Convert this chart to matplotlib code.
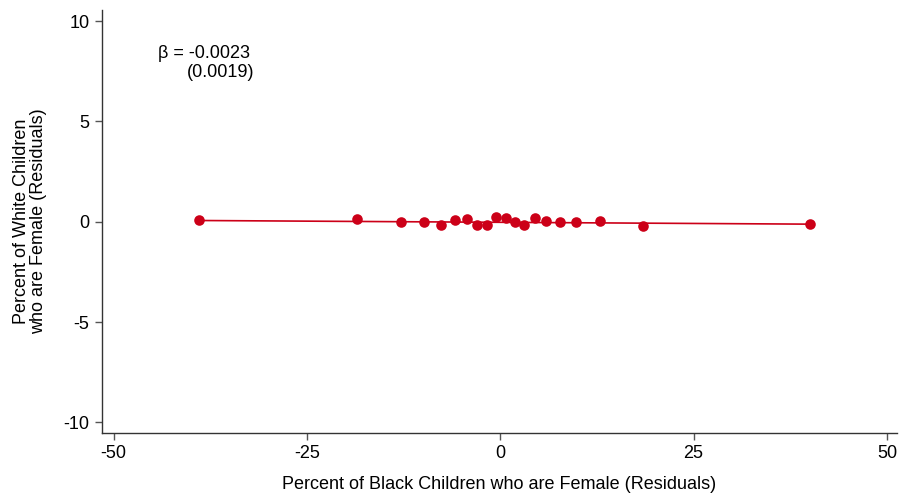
import matplotlib
matplotlib.use("Agg")
import matplotlib.pyplot as plt
import numpy as np

plt.rcParams['font.family'] = ['Liberation Sans', 'DejaVu Sans']

# binned residuals
x_vals = [-38.9, -18.5, -12.9, -9.8, -7.6, -5.8, -4.3, -3.0, -1.7, -0.5, 0.7,
          1.9, 3.1, 4.5, 5.95, 7.7, 9.8, 12.9, 18.5, 40.1]
y_vals = [0.06, 0.11, -0.02, -0.02, -0.14, 0.06, 0.14, -0.16, -0.16, 0.24, 0.19,
          0.0, -0.15, 0.17, 0.04, 0.0, -0.03, 0.03, -0.23, -0.13]
slope = -0.0023
intercept = -0.03
beta_text = "β = -0.0023"
se_text = "(0.0019)"
x_ticks = [-50, -25, 0, 25, 50]
y_ticks = [-10, -5, 0, 5, 10]

red = '#CC0018'
fs = 13

fig = plt.figure(figsize=(8.99, 4.93), dpi=100)
ax = fig.add_axes([102/899, 1 - 433/493, (897-102)/899, (433-10)/493])

xs = np.array([min(x_vals), max(x_vals)])
ax.plot(xs, intercept + slope * xs, color=red, lw=1.2, zorder=2)
ax.scatter(x_vals, y_vals, s=58, color=red, zorder=3, linewidths=0)

ax.set_xlim(-51.5, 51.3)
ax.set_ylim(-10.53, 10.55)
ax.set_xticks(x_ticks)
ax.set_yticks(y_ticks)
ax.set_xticklabels([str(t) for t in x_ticks])
ax.set_yticklabels([str(t) for t in y_ticks])

for s in ['top', 'right']:
    ax.spines[s].set_visible(False)
for s in ['left', 'bottom']:
    ax.spines[s].set_color('#333333')
    ax.spines[s].set_linewidth(1.0)
ax.tick_params(direction='out', length=5, width=1, color='#555555',
               labelsize=fs, pad=4)

ax.set_xlabel("Percent of Black Children who are Female (Residuals)", fontsize=fs, labelpad=10)
ax.set_ylabel("Percent of White Children\nwho are Female (Residuals)", fontsize=fs,
              labelpad=12, linespacing=1.0)

fig.text(158/899, 1 - 53.5/493, beta_text, fontsize=fs, va='center', ha='left')
fig.text(187/899, 1 - 72.5/493, se_text, fontsize=fs, va='center', ha='left')

fig.savefig("out.png", dpi=100, facecolor='white')
